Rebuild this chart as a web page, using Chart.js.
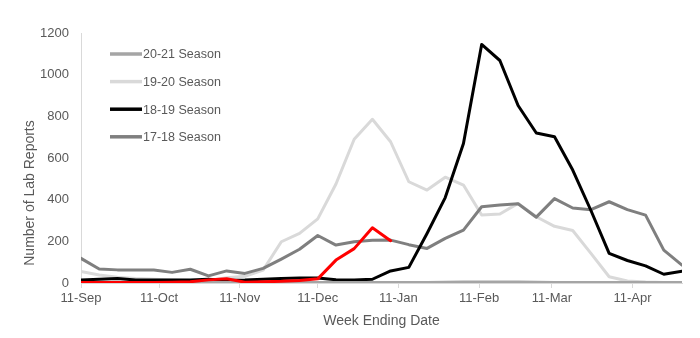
<!DOCTYPE html>
<html>
<head>
<meta charset="utf-8">
<script src="https://cdn.jsdelivr.net/npm/chart.js@4.4.1/dist/chart.umd.min.js"></script>
<style>
  html, body { margin: 0; padding: 0; background: #fff; }
  #wrap { width: 700px; height: 338px; }
</style>
</head>
<body>
<div id="wrap"><canvas id="labChart"></canvas></div>
<script>
// week ending dates (shared by every season)
const weekEnding = [
    '2020-09-11', '2020-09-18', '2020-09-25', '2020-10-02', '2020-10-09', '2020-10-16',
    '2020-10-23', '2020-10-30', '2020-11-06', '2020-11-13', '2020-11-20', '2020-11-27',
    '2020-12-04', '2020-12-11', '2020-12-18', '2020-12-25', '2021-01-01', '2021-01-08',
    '2021-01-15', '2021-01-22', '2021-01-29', '2021-02-05', '2021-02-12', '2021-02-19',
    '2021-02-26', '2021-03-05', '2021-03-12', '2021-03-19', '2021-03-26', '2021-04-02',
    '2021-04-09', '2021-04-16', '2021-04-23', '2021-04-30'
];

const season2021 = [2, 2, 2, 2, 2, 2, 2, 2, 2, 2, 2, 2, 2, 2, 2, 2, 2, 2,
    3, 3, 4, 5, 5, 5, 5, 4, 3, 3, 3, 3, 3, 2, 2, 2];
const season1920 = [55, 38, 28, 22, 18, 15, 12, 12, 25, 32, 62, 198, 238, 308, 475, 690, 786, 678,
    486, 446, 508, 470, 326, 331, 382, 318, 272, 252, 142, 30, 10, 5, 2, 2];
const season1819 = [14, 18, 22, 14, 14, 14, 14, 18, 12, 14, 18, 22, 24, 24, 16, 14, 18, 58,
    75, 238, 410, 670, 1145, 1068, 852, 720, 702, 542, 348, 142, 108, 82, 42, 56];
const season1718 = [118, 67, 63, 63, 62, 51, 66, 34, 58, 46, 70, 115, 162, 228, 182, 198, 205, 206,
    184, 166, 214, 254, 366, 374, 380, 316, 405, 360, 352, 390, 352, 326, 158, 86];
const currentSeason = [2, 2, 2, 2, 3, 4, 6, 15, 20, 4, 6, 8, 12, 20, 110, 165, 265, 203];

const tickDates = ['2020-09-11', '2020-10-11', '2020-11-11', '2020-12-11',
    '2021-01-11', '2021-02-11', '2021-03-11', '2021-04-11'];
const tickLabels = ['11-Sep', '11-Oct', '11-Nov', '11-Dec', '11-Jan', '11-Feb', '11-Mar', '11-Apr'];

const DAY = 86400000;
const start = Date.parse(weekEnding[0]);
const dayOf = d => (Date.parse(d) - start) / DAY;

function points(values) {
    return values.map((v, i) => ({ x: dayOf(weekEnding[i]), y: v }));
}

const FONT = '"Liberation Sans", Arial, sans-serif';
const TEXT = '#595959';

// legend inside the plot (top left) and the y axis title, which sits a bit low
const extras = {
    id: 'extras',
    afterDatasetsDraw(chart) {
        const { ctx, chartArea } = chart;
        ctx.save();
        ctx.font = '12.5px ' + FONT;
        ctx.textBaseline = 'middle';
        let row = 0;
        chart.data.datasets.forEach(ds => {
            if (!ds.label) return;
            const y = chartArea.top + 21 + row * 27.6;
            const x = chartArea.left + 29;
            ctx.strokeStyle = ds.borderColor;
            ctx.lineWidth = 3.5;
            ctx.beginPath();
            ctx.moveTo(x, y);
            ctx.lineTo(x + 32, y);
            ctx.stroke();
            ctx.fillStyle = TEXT;
            ctx.fillText(ds.label, x + 33, y + 1);
            row++;
        });

        ctx.font = '14px ' + FONT;
        ctx.textAlign = 'center';
        ctx.translate(30, 193);
        ctx.rotate(-Math.PI / 2);
        ctx.fillText('Number of Lab Reports', 0, 0);
        ctx.restore();
    }
};

const line = (label, values, color, order) => ({
    label: label,
    data: points(values),
    borderColor: color,
    backgroundColor: color,
    borderWidth: 3,
    pointRadius: 0,
    tension: 0,
    borderJoinStyle: 'round',
    borderCapStyle: 'round',
    order: order
});

new Chart(document.getElementById('labChart'), {
    type: 'line',
    data: {
        datasets: [
            line('20-21 Season', season2021, '#a5a5a5', 1),
            line('19-20 Season', season1920, '#d9d9d9', 4),
            line('18-19 Season', season1819, '#000000', 2),
            line('17-18 Season', season1718, '#7f7f7f', 3),
            line('', currentSeason, '#ff0000', 0)
        ]
    },
    options: {
        responsive: true,
        maintainAspectRatio: false,
        animation: false,
        layout: { padding: { top: 33, right: 18, left: 0, bottom: 0 } },
        plugins: {
            legend: { display: false },
            tooltip: { enabled: false }
        },
        scales: {
            x: {
                type: 'linear',
                min: 0,
                max: dayOf(weekEnding[weekEnding.length - 1]),
                afterBuildTicks: scale => {
                    scale.ticks = tickDates.map(d => ({ value: dayOf(d) }));
                },
                afterFit: scale => { scale.height = 55; },
                ticks: {
                    autoSkip: false,
                    maxRotation: 0,
                    padding: 3,
                    color: TEXT,
                    font: { family: FONT, size: 13 },
                    callback: (value) => tickLabels[tickDates.findIndex(d => dayOf(d) === value)]
                },
                grid: {
                    drawOnChartArea: false,
                    drawTicks: true,
                    tickLength: 5,
                    color: '#d9d9d9'
                },
                border: { display: true, color: '#d9d9d9', width: 1 },
                title: {
                    display: true,
                    text: 'Week Ending Date',
                    color: TEXT,
                    font: { family: FONT, size: 14 },
                    padding: { top: 0, bottom: 8 }
                }
            },
            y: {
                min: 0,
                max: 1200,
                afterFit: scale => { scale.width = 81; },
                ticks: {
                    stepSize: 200,
                    padding: 12,
                    color: TEXT,
                    font: { family: FONT, size: 13 },
                    callback: value => String(value)
                },
                grid: { display: false, drawTicks: false },
                border: { display: true, color: '#d9d9d9', width: 1 }
            }
        }
    },
    plugins: [extras]
});
</script>
</body>
</html>
